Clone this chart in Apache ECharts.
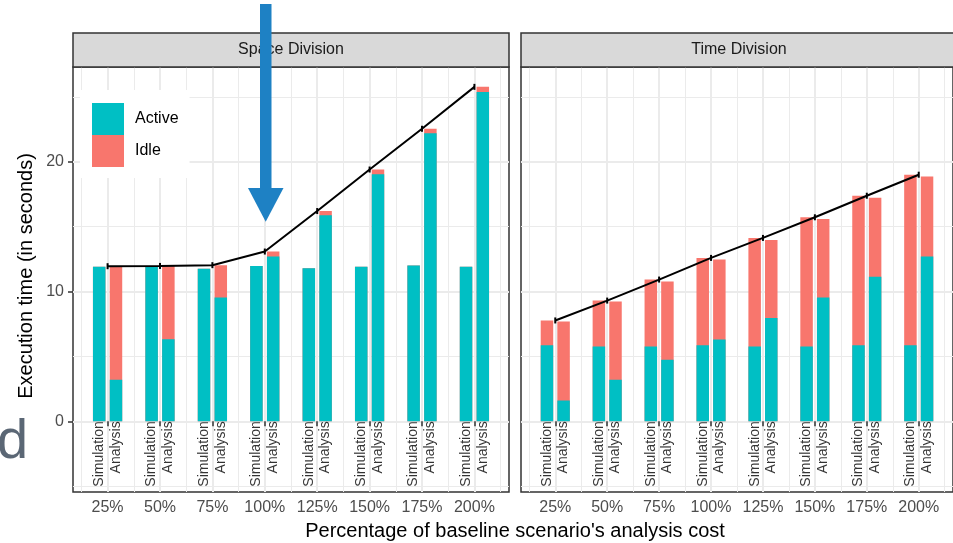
<!DOCTYPE html>
<html><head><meta charset="utf-8">
<script src="https://cdn.jsdelivr.net/npm/echarts@6/dist/echarts.min.js"></script>
<style>html,body{margin:0;padding:0;background:#fff}#c{width:953px;height:543px}</style>
</head><body><div id="c"></div>
<script>
// ---- data ----
const tickLabels = ['25%','50%','75%','100%','125%','150%','175%','200%'];
const panelTitles = ['Space Division','Time Division'];
const barRoles = ['Simulation','Analysis'];
const spaceSimActive = [11.9, 11.95, 11.75, 11.97, 11.8, 11.9, 12.0, 11.9];
const spaceSimIdle   = [0, 0, 0, 0, 0, 0, 0, 0];
const spaceAnaActive = [3.2, 6.33, 9.54, 12.69, 15.87, 19.03, 22.2, 25.38];
const spaceAnaIdle   = [8.75, 5.64, 2.49, 0.39, 0.33, 0.37, 0.34, 0.39];
const timeSimActive  = [5.85, 5.77, 5.77, 5.85, 5.77, 5.77, 5.85, 5.85];
const timeSimIdle    = [1.92, 3.53, 5.15, 6.74, 8.36, 9.95, 11.53, 13.15];
const timeAnaActive  = [1.6, 3.2, 4.74, 6.3, 7.95, 9.54, 11.13, 12.69];
const timeAnaIdle    = [6.09, 6.03, 6.03, 6.16, 6.02, 6.05, 6.10, 6.18];
const yTicks = [0, 10, 20];
const yMinor = [-5, 5, 15, 25];

// ---- layout / style ----
const PANEL_LEFT = [73, 521], PANEL_TOP = 67, PANEL_W = 436, PANEL_H = 425;
const X_MIN = 0.34, X_MAX = 8.66, Y_MIN = -5.45, Y_MAX = 27.3;
const DODGE = 0.16, BAR_W = 12.5;
const ACTIVE = '#00BFC4', IDLE = '#F8766D', GRID = '#EBEBEB', DARK = '#333333';
const FONT = '"Liberation Sans", Arial, sans-serif';

const panels = [
  {simA: spaceSimActive, simI: spaceSimIdle, anaA: spaceAnaActive, anaI: spaceAnaIdle},
  {simA: timeSimActive, simI: timeSimIdle, anaA: timeAnaActive, anaI: timeAnaIdle}
];
const xPos = tickLabels.map((_, i) => i + 1);
const xMinor = [0].concat(xPos).map(v => v + 0.5);

const grids = [], xAxes = [], yAxes = [], series = [];
panels.forEach((pd, p) => {
  grids.push({left: PANEL_LEFT[p], top: PANEL_TOP, width: PANEL_W, height: PANEL_H,
    show: true, backgroundColor: '#fff', borderColor: DARK, borderWidth: 1.5});
  xAxes.push({type: 'value', gridIndex: p, min: X_MIN, max: X_MAX,
    axisLine: {show: false}, splitLine: {show: false},
    axisTick: {show: true, length: 5, customValues: xPos, lineStyle: {color: DARK, width: 1.5}},
    axisLabel: {show: true, customValues: xPos, margin: 8, fontSize: 16, color: '#4D4D4D', fontFamily: FONT,
      formatter: v => tickLabels[Math.round(v) - 1] || ''}});
  yAxes.push({type: 'value', gridIndex: p, min: Y_MIN, max: Y_MAX,
    axisLine: {show: false}, splitLine: {show: false},
    axisTick: {show: p === 0, length: 5, customValues: yTicks, lineStyle: {color: DARK, width: 1.5}},
    axisLabel: {show: p === 0, customValues: yTicks, margin: 9, fontSize: 16, color: '#4D4D4D', fontFamily: FONT}});

  const gl = [];
  xMinor.forEach(v => gl.push({xAxis: v, lineStyle: {color: GRID, width: 1, type: 'solid'}}));
  yMinor.forEach(v => gl.push({yAxis: v, lineStyle: {color: GRID, width: 1, type: 'solid'}}));
  xPos.forEach(v => gl.push({xAxis: v, lineStyle: {color: GRID, width: 2, type: 'solid'}}));
  yTicks.forEach(v => gl.push({yAxis: v, lineStyle: {color: GRID, width: 2, type: 'solid'}}));
  series.push({type: 'line', xAxisIndex: p, yAxisIndex: p, data: [], silent: true, z: 0,
    markLine: {silent: true, symbol: 'none', z: 0, animation: false, label: {show: false}, data: gl}});

  // Idle drawn as full-height (active + idle) bar, Active drawn over it from 0.
  const mk = (name, vals, off, color, z) => ({
    type: 'bar', name, xAxisIndex: p, yAxisIndex: p, barWidth: BAR_W, barGap: '-100%',
    itemStyle: {color}, z,
    data: vals.map((v, i) => [xPos[i] + off, v])});
  series.push(mk('Idle', pd.simA.map((a, i) => a + pd.simI[i]), -DODGE, IDLE, 2));
  series.push(mk('Idle', pd.anaA.map((a, i) => a + pd.anaI[i]), DODGE, IDLE, 2));
  series.push(mk('Active', pd.simA, -DODGE, ACTIVE, 3));
  series.push(mk('Active', pd.anaA, DODGE, ACTIVE, 3));

  series.push({type: 'line', xAxisIndex: p, yAxisIndex: p, z: 5,
    data: xPos.map((x, i) => [x, Math.max(pd.simA[i] + pd.simI[i], pd.anaA[i] + pd.anaI[i])]),
    symbol: 'rect', symbolSize: [2, 6], showSymbol: true,
    itemStyle: {color: '#000'}, lineStyle: {color: '#000', width: 2}});

  const lab = [];
  xPos.forEach(x => { lab.push([x - DODGE, 0, barRoles[0]]); lab.push([x + DODGE, 0, barRoles[1]]); });
  series.push({type: 'scatter', xAxisIndex: p, yAxisIndex: p, z: 6, silent: true,
    symbolSize: 1, itemStyle: {color: 'rgba(0,0,0,0)'}, data: lab,
    label: {show: true, position: 'inside', rotate: 90, align: 'right', verticalAlign: 'middle',
      fontSize: 14, color: '#000', fontFamily: FONT, formatter: q => q.value[2]}});
});

const graphics = [];
panelTitles.forEach((t, p) => {
  graphics.push({type: 'rect', z: 10, shape: {x: PANEL_LEFT[p], y: 33, width: PANEL_W, height: 34},
    style: {fill: '#D9D9D9', stroke: DARK, lineWidth: 1.5}});
  graphics.push({type: 'text', z: 11, style: {text: t, x: PANEL_LEFT[p] + PANEL_W / 2, y: 50,
    textAlign: 'center', textVerticalAlign: 'middle', fontSize: 16, fill: '#1A1A1A', fontFamily: FONT}});
});
graphics.push({type: 'text', z: 11, style: {text: "Percentage of baseline scenario's analysis cost",
  x: 515, y: 531, textAlign: 'center', textVerticalAlign: 'middle', fontSize: 20, fill: '#000', fontFamily: FONT}});
graphics.push({type: 'text', z: 11, rotation: Math.PI / 2, x: 26, y: 276,
  style: {text: 'Execution time (in seconds)', x: 0, y: 0, textAlign: 'center', textVerticalAlign: 'middle',
    fontSize: 20, fill: '#000', fontFamily: FONT}});
graphics.push({type: 'rect', z: 100, shape: {x: 260, y: 4, width: 11.5, height: 186}, style: {fill: '#1E81C4'}});
graphics.push({type: 'polygon', z: 100, shape: {points: [[248, 188], [283.5, 188], [265.7, 221.7]]}, style: {fill: '#1E81C4'}});
graphics.push({type: 'text', z: 100, style: {text: 'd', x: -3, y: 443, textAlign: 'left', textVerticalAlign: 'middle',
  fontSize: 56, fill: '#5B6775', fontFamily: FONT}});

const chart = echarts.init(document.getElementById('c'), null, {renderer: 'canvas'});
chart.setOption({
  animation: false,
  backgroundColor: '#fff',
  textStyle: {fontFamily: FONT},
  legend: {data: ['Active', 'Idle'], orient: 'vertical', left: 80, top: 90, itemWidth: 32, itemHeight: 32, itemGap: 0,
    icon: 'rect', backgroundColor: '#fff', padding: [13, 11, 11, 12], selectedMode: false,
    textStyle: {fontSize: 16, color: '#000', padding: [0, 0, 0, 6], fontFamily: FONT}},
  grid: grids, xAxis: xAxes, yAxis: yAxes, series, graphic: graphics
});
</script></body></html>
